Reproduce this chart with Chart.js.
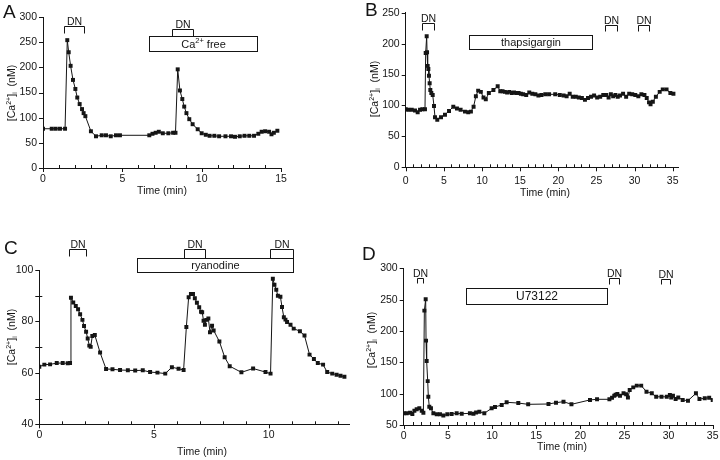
<!DOCTYPE html>
<html>
<head>
<meta charset="utf-8">
<script src="https://cdn.jsdelivr.net/npm/chart.js@4.4.1/dist/chart.umd.min.js"></script>
<style>
body { margin: 0; background: #fff; width: 720px; height: 460px; position: relative; overflow: hidden; }
canvas { position: absolute; }
</style>
</head>
<body>
<canvas id="grA" width="300" height="205" style="left:0;top:0"></canvas>
<canvas id="grB" width="360" height="205" style="left:360px;top:0"></canvas>
<canvas id="grC" width="360" height="235" style="left:0;top:225px"></canvas>
<canvas id="grD" width="360" height="235" style="left:360px;top:225px"></canvas>
<script>
// PAINEL A
const tempoA = [0, 0.55, 0.8, 1.07, 1.39, 1.53, 1.62, 1.74, 1.89, 2.04, 2.16, 2.31, 2.46, 2.56, 2.67, 3.02, 3.34, 3.7, 3.97, 4.27,
    4.6, 4.85, 6.7, 6.9, 7.1, 7.3, 7.55, 7.9, 8.2, 8.35, 8.49, 8.63, 8.78, 8.9, 9.04, 9.22, 9.43, 9.75, 10.0, 10.26,
    10.5, 10.8, 11.1, 11.5, 11.85, 12.1, 12.4, 12.7, 13.0, 13.3, 13.57, 13.78, 14.0, 14.25, 14.4, 14.55, 14.77];
const caA = [78, 78, 78, 78, 78, 254, 230, 203, 175, 157, 140, 127, 117, 109, 103, 73, 63, 65, 65, 63,
    65, 65, 65, 68, 70, 72, 69, 69, 70, 70, 196, 154, 137, 122, 109, 97, 87, 77, 69, 66,
    64, 64, 63, 63, 63, 62, 63, 64, 64, 64, 68, 72, 73, 72, 67, 70, 74];
const dnA = [[1.34, 2.6], [8.15, 9.43]];
const caixaA = [6.68, 13.47];

// PAINEL B
const tempoB = [0, 0.34, 0.79, 1.22, 1.57, 1.88, 2.18, 2.53, 2.62, 2.75,
    2.8, 2.88, 2.97, 3.05, 3.14, 3.23, 3.36, 3.54, 3.71, 3.84,
    4.14, 4.63, 5.15, 5.68, 6.24, 6.72, 7.2, 7.77, 8.2, 8.55,
    8.9, 9.2, 9.5, 9.85, 10.2, 10.5, 10.9, 11.5, 12.06, 12.4,
    12.7, 13.0, 13.3, 13.6, 13.9, 14.2, 14.5, 14.8, 15.1, 15.4,
    15.8, 16.2, 16.6, 17.0, 17.4, 17.8, 18.3, 18.8, 19.6, 20.2,
    20.7, 21.1, 21.5, 21.9, 22.3, 22.7, 23.1, 23.5, 23.9, 24.3,
    24.7, 25.1, 25.5, 25.9, 26.3, 26.6, 26.9, 27.2, 27.5, 27.8,
    28.1, 28.5, 28.9, 29.3, 29.7, 30.1, 30.5, 30.9, 31.3, 31.6,
    31.9, 32.1, 32.4, 32.8, 33.3, 33.7, 34.2, 34.7, 35.1];
const caB = [94, 93, 93, 92, 89, 93, 94, 94, 185, 212,
    186, 164, 159, 148, 136, 125, 120, 117, 99, 81,
    77, 81, 85, 91, 98, 95, 93, 90, 89, 90,
    98, 115, 124, 122, 113, 110, 120, 125, 131, 123,
    123, 122, 121, 122, 120, 121, 120, 120, 119, 118,
    117, 121, 119, 118, 116, 117, 118, 118, 118, 117,
    116, 115, 119, 114, 114, 113, 112, 109, 112, 114,
    116, 113, 114, 117, 117, 113, 118, 115, 117, 114,
    116, 119, 114, 119, 118, 117, 115, 118, 117, 112,
    105, 102, 106, 114, 122, 126, 126, 120, 119];
const dnB = [[2.2, 3.7], [26.1, 27.7], [30.5, 31.9]];
const caixaB = [8.35, 24.4];

// PAINEL C
const tempoC = [0, 0.22, 0.47, 0.76, 1.02, 1.24, 1.34, 1.38, 1.48, 1.59,
    1.69, 1.78, 1.88, 1.95, 2.04, 2.11, 2.18, 2.24, 2.31, 2.42,
    2.65, 2.91, 3.19, 3.52, 3.86, 4.18, 4.51, 4.83, 5.15, 5.49,
    5.78, 6.07, 6.29, 6.41, 6.51, 6.61, 6.7, 6.78, 6.87, 6.97,
    7.05, 7.1, 7.16, 7.22, 7.28, 7.37, 7.44, 7.53, 7.6, 7.85,
    8.08, 8.3, 8.81, 9.32, 9.86, 10.08, 10.18, 10.25, 10.33, 10.4,
    10.51, 10.58, 10.66, 10.73, 10.8, 10.95, 11.09, 11.36, 11.56, 11.78,
    11.97, 12.14, 12.37, 12.55, 12.77, 12.96, 13.13, 13.3];
const caC = [62.4, 63.2, 63.3, 63.8, 63.8, 63.7, 63.8, 89.2, 87.4, 86,
    84.7, 82.8, 80.6, 78.2, 76, 73.4, 70.6, 70.1, 74.3, 74.7,
    67.9, 61.5, 61.4, 61.1, 61, 60.9, 61, 60.3, 60.1, 59.7,
    62.2, 61.6, 61.1, 77.8, 89.4, 90.7, 90.7, 89, 87.3, 85.5,
    83.8, 83.6, 80.3, 78.7, 80.6, 81.1, 75.8, 78.3, 76.5, 72.2,
    66.1, 62.6, 60.2, 61.7, 60.3, 59.7, 96.6, 94.3, 92.3, 90,
    89.6, 85.6, 81.6, 80.7, 79.8, 78.7, 77.2, 76.2, 74.5, 67.1,
    65.4, 63.8, 63.2, 60.3, 59.7, 59.3, 58.9, 58.5];
const dnC = [[1.3, 2.02], [6.3, 7.23], [10.07, 11.05]];
const caixaC = [4.26, 11.05];

// PAINEL D
const tempoD = [0, 0.34, 0.72, 0.98, 1.21, 1.47, 1.77, 2.04, 2.23, 2.34,
    2.49, 2.53, 2.6, 2.72, 2.79, 2.9, 3.09, 3.36, 3.74, 4.11,
    4.49, 4.94, 5.43, 6.0, 6.57, 7.5, 7.9, 8.2, 8.57, 9.13,
    9.96, 10.34, 11.1, 11.66, 12.98, 14.1, 16.4, 17.25, 18.1, 19.0,
    21.1, 21.9, 23.3, 23.6, 23.85, 24.0, 24.2, 24.5, 24.9, 25.2,
    25.4, 25.6, 26.0, 26.4, 26.9, 27.5, 28.1, 28.6, 29.2, 29.8,
    30.15, 30.3, 30.5, 30.8, 31.1, 31.6, 32.2, 33.1, 33.5, 34.1,
    34.6, 35.0];
const caD = [68.6, 68.6, 69.7, 67.6, 72.9, 75, 76.6, 72.9, 69.7, 232.5,
    250.6, 184.6, 152, 120, 95, 79, 76.6, 68.6, 67, 67,
    65, 67, 67.6, 68.6, 68, 68.6, 68, 70, 71.3, 68.6,
    76.6, 78.7, 82, 86.2, 85, 83, 83.5, 85.6, 87.2, 83,
    90, 91, 91, 93.6, 96.8, 98.4, 99.5, 96.8, 100.5, 98.9,
    94, 105.9, 110, 112.8, 112.8, 103.2, 100.5, 95, 95, 95,
    97.9, 94, 96.8, 91.5, 94, 90, 88.8, 100.5, 91.5, 92.6,
    93.6, 90];
const dnD = [[1.55, 2.23], [23.2, 24.4], [29.2, 30.2]];
const caixaD = [7.02, 22.98];

const FONTE = '"Liberation Sans", Arial, Helvetica, sans-serif';
const TINTA = '#151515';

// TEXTO COM SOBRESCRITO / SUBSCRITO: partes = [[texto, 0 | 1 | -1]]
function textoRico(ctx, partes, x, y, tam) {
    let total = 0;
    const larg = partes.map(([t, k]) => {
        ctx.font = (k ? tam * 0.68 : tam) + 'px ' + FONTE;
        const w = ctx.measureText(t).width;
        total += w;
        return w;
    });
    let cx = x - total / 2;
    ctx.textAlign = 'left';
    ctx.textBaseline = 'middle';
    partes.forEach(([t, k], i) => {
        ctx.font = (k ? tam * 0.68 : tam) + 'px ' + FONTE;
        const dy = k > 0 ? -tam * 0.3 : (k < 0 ? tam * 0.3 : 0);
        ctx.fillText(t, cx, y + dy);
        cx += larg[i];
    });
}

const tituloY = [['[Ca', 0], ['2+', 1], [']', 0], ['i', -1], ['  (nM)', 0]];

const painel = {
    id: 'painel',
    afterDraw(chart, args, o) {
        const ctx = chart.ctx;
        const sx = chart.scales.x, sy = chart.scales.y;
        const area = chart.chartArea;
        ctx.save();
        ctx.strokeStyle = TINTA;
        ctx.fillStyle = TINTA;
        ctx.lineWidth = 1;

        // MARCAS DO EIXO X
        sx.ticks.forEach(t => {
            const px = Math.round(sx.getPixelForValue(t.value)) + 0.5;
            const maior = Math.abs(t.value % 5) < 1e-6;
            ctx.beginPath();
            ctx.moveTo(px, maior ? area.bottom + 4 : area.bottom);
            ctx.lineTo(px, maior ? area.bottom : area.bottom - 3);
            ctx.stroke();
        });
        // MARCAS DO EIXO Y
        sy.ticks.forEach(t => {
            const py = Math.round(sy.getPixelForValue(t.value)) + 0.5;
            const maior = Math.abs(t.value % o.yMaior) < 1e-6;
            ctx.beginPath();
            ctx.moveTo(area.left - 4, py);
            ctx.lineTo(area.left + (maior ? 0 : 3), py);
            ctx.stroke();
        });

        // CAIXA DO TRATAMENTO
        const bx1 = Math.round(sx.getPixelForValue(o.caixa[0])) + 0.5;
        const bx2 = Math.round(sx.getPixelForValue(o.caixa[1])) + 0.5;
        const by1 = Math.round(sy.getPixelForValue(o.caixaY[0])) + 0.5;
        const by2 = Math.round(sy.getPixelForValue(o.caixaY[1])) + 0.5;
        ctx.fillStyle = '#fff';
        ctx.fillRect(bx1, by1, bx2 - bx1, by2 - by1);
        ctx.strokeRect(bx1, by1, bx2 - bx1, by2 - by1);
        ctx.fillStyle = TINTA;
        textoRico(ctx, o.rotulo, (bx1 + bx2) / 2, (by1 + by2) / 2 + 0.5, o.tamRotulo);

        // COLCHETES DN
        o.dn.forEach(([a, b], i) => {
            const x1 = Math.round(sx.getPixelForValue(a)) + 0.5;
            const x2 = Math.round(sx.getPixelForValue(b)) + 0.5;
            const yt = Math.round(sy.getPixelForValue(o.dnY[i][0])) + 0.5;
            const yb = Math.round(sy.getPixelForValue(o.dnY[i][1])) + 0.5;
            ctx.beginPath();
            ctx.moveTo(x1, yb);
            ctx.lineTo(x1, yt);
            ctx.lineTo(x2, yt);
            ctx.lineTo(x2, yb);
            ctx.stroke();
            ctx.font = '10.5px ' + FONTE;
            ctx.textAlign = 'center';
            ctx.textBaseline = 'alphabetic';
            ctx.fillText('DN', (x1 + x2) / 2, yt - 1.5);
        });

        // TITULOS E LETRA
        ctx.font = '10.5px ' + FONTE;
        ctx.textAlign = 'center';
        ctx.textBaseline = 'middle';
        ctx.fillText('Time (min)', o.tituloX[0], o.tituloX[1]);
        ctx.save();
        ctx.translate(o.posY[0], o.posY[1]);
        ctx.rotate(-Math.PI / 2);
        textoRico(ctx, tituloY, 0, 0, 10.5);
        ctx.restore();
        ctx.font = '19px ' + FONTE;
        ctx.textAlign = 'left';
        ctx.textBaseline = 'alphabetic';
        ctx.fillText(o.letra[0], o.letra[1], o.letra[2]);
        ctx.restore();
    }
};

function montaGrafico(id, tempo, ca, c) {
    const pontos = tempo.map((t, i) => ({ x: t, y: ca[i] }));
    return new Chart(document.getElementById(id), {
        type: 'line',
        data: {
            datasets: [{
                data: pontos,
                borderColor: TINTA,
                borderWidth: 1,
                pointStyle: 'rect',
                pointRadius: 2.8,
                pointBackgroundColor: TINTA,
                pointBorderWidth: 0,
                tension: 0
            }]
        },
        options: {
            responsive: false,
            animation: false,
            layout: { padding: { top: c.pad[0], right: c.pad[1], bottom: 0, left: 0 } },
            scales: {
                x: {
                    type: 'linear',
                    min: 0,
                    max: c.xMax,
                    // AREA FIXA, SEM FOLGA EXTRA DOS ROTULOS
                    afterFit: s => { s.height = c.altX; s.paddingLeft = 0; s.paddingRight = 0; },
                    grid: { display: false, drawTicks: false },
                    border: { display: true, color: TINTA, width: 1 },
                    ticks: {
                        stepSize: 1,
                        autoSkip: false,
                        includeBounds: false,
                        maxRotation: 0,
                        padding: c.padX,
                        color: TINTA,
                        font: { size: 10.5, family: FONTE },
                        callback: v => (v % 5 === 0 ? v : '')
                    }
                },
                y: {
                    min: c.yMin,
                    max: c.yMax,
                    afterFit: s => { s.width = c.largY; s.paddingTop = 0; s.paddingBottom = 0; },
                    grid: { display: false, drawTicks: false },
                    border: { display: true, color: TINTA, width: 1 },
                    ticks: {
                        stepSize: c.yPasso,
                        padding: 6,
                        color: TINTA,
                        font: { size: 10.5, family: FONTE },
                        callback: v => (v % c.yMaior === 0 ? v : '')
                    }
                }
            },
            plugins: {
                legend: { display: false },
                tooltip: { enabled: false },
                painel: c.painel
            }
        },
        plugins: [painel]
    });
}

const graficoA = montaGrafico('grA', tempoA, caA, {
    pad: [17, 19], altX: 37, largY: 43, padX: 5, xMax: 15,
    yMin: 0, yMax: 300, yPasso: 50, yMaior: 50,
    painel: {
        yMaior: 50, letra: ['A', 3, 18],
        tituloX: [162, 191], posY: [12, 93],
        caixa: caixaA, caixaY: [262, 233],
        rotulo: [['Ca', 0], ['2+', 1], [' free', 0]], tamRotulo: 11,
        dn: dnA, dnY: [[281.5, 267.6], [275.6, 262]]
    }
});

const graficoB = montaGrafico('grB', tempoB, caB, {
    pad: [12.7, 42], altX: 37.7, largY: 45.7, padX: 8, xMax: 35.7,
    yMin: 0, yMax: 250, yPasso: 50, yMaior: 50,
    painel: {
        yMaior: 50, letra: ['B', 5, 16],
        tituloX: [185, 193], posY: [15, 89],
        caixa: caixaB, caixaY: [213.5, 191.8],
        rotulo: [['thapsigargin', 0]], tamRotulo: 11,
        dn: dnB, dnY: [[234, 222], [230, 221], [230, 221]]
    }
});

const graficoC = montaGrafico('grC', tempoC, caC, {
    pad: [45, 11], altX: 35.7, largY: 39.3, padX: 5, xMax: 13.5,
    yMin: 40, yMax: 100, yPasso: 10, yMaior: 20,
    painel: {
        yMaior: 20, letra: ['C', 4, 29],
        tituloX: [202, 227], posY: [12, 112],
        caixa: caixaC, caixaY: [104.6, 99.1],
        rotulo: [['ryanodine', 0]], tamRotulo: 11,
        dn: dnC, dnY: [[108.2, 105.5], [108, 104.6], [108, 104.6]]
    }
});

const graficoD = montaGrafico('grD', tempoD, caD, {
    pad: [43.3, 7.3], altX: 35, largY: 43.7, padX: 5, xMax: 35,
    yMin: 50, yMax: 300, yPasso: 50, yMaior: 50,
    painel: {
        yMaior: 50, letra: ['D', 2, 35],
        tituloX: [202, 222], posY: [12, 115],
        caixa: caixaD, caixaY: [268, 243.5],
        rotulo: [['U73122', 0]], tamRotulo: 12,
        dn: dnD, dnY: [[285, 276], [284, 275], [283, 274.5]]
    }
});
</script>
</body>
</html>
